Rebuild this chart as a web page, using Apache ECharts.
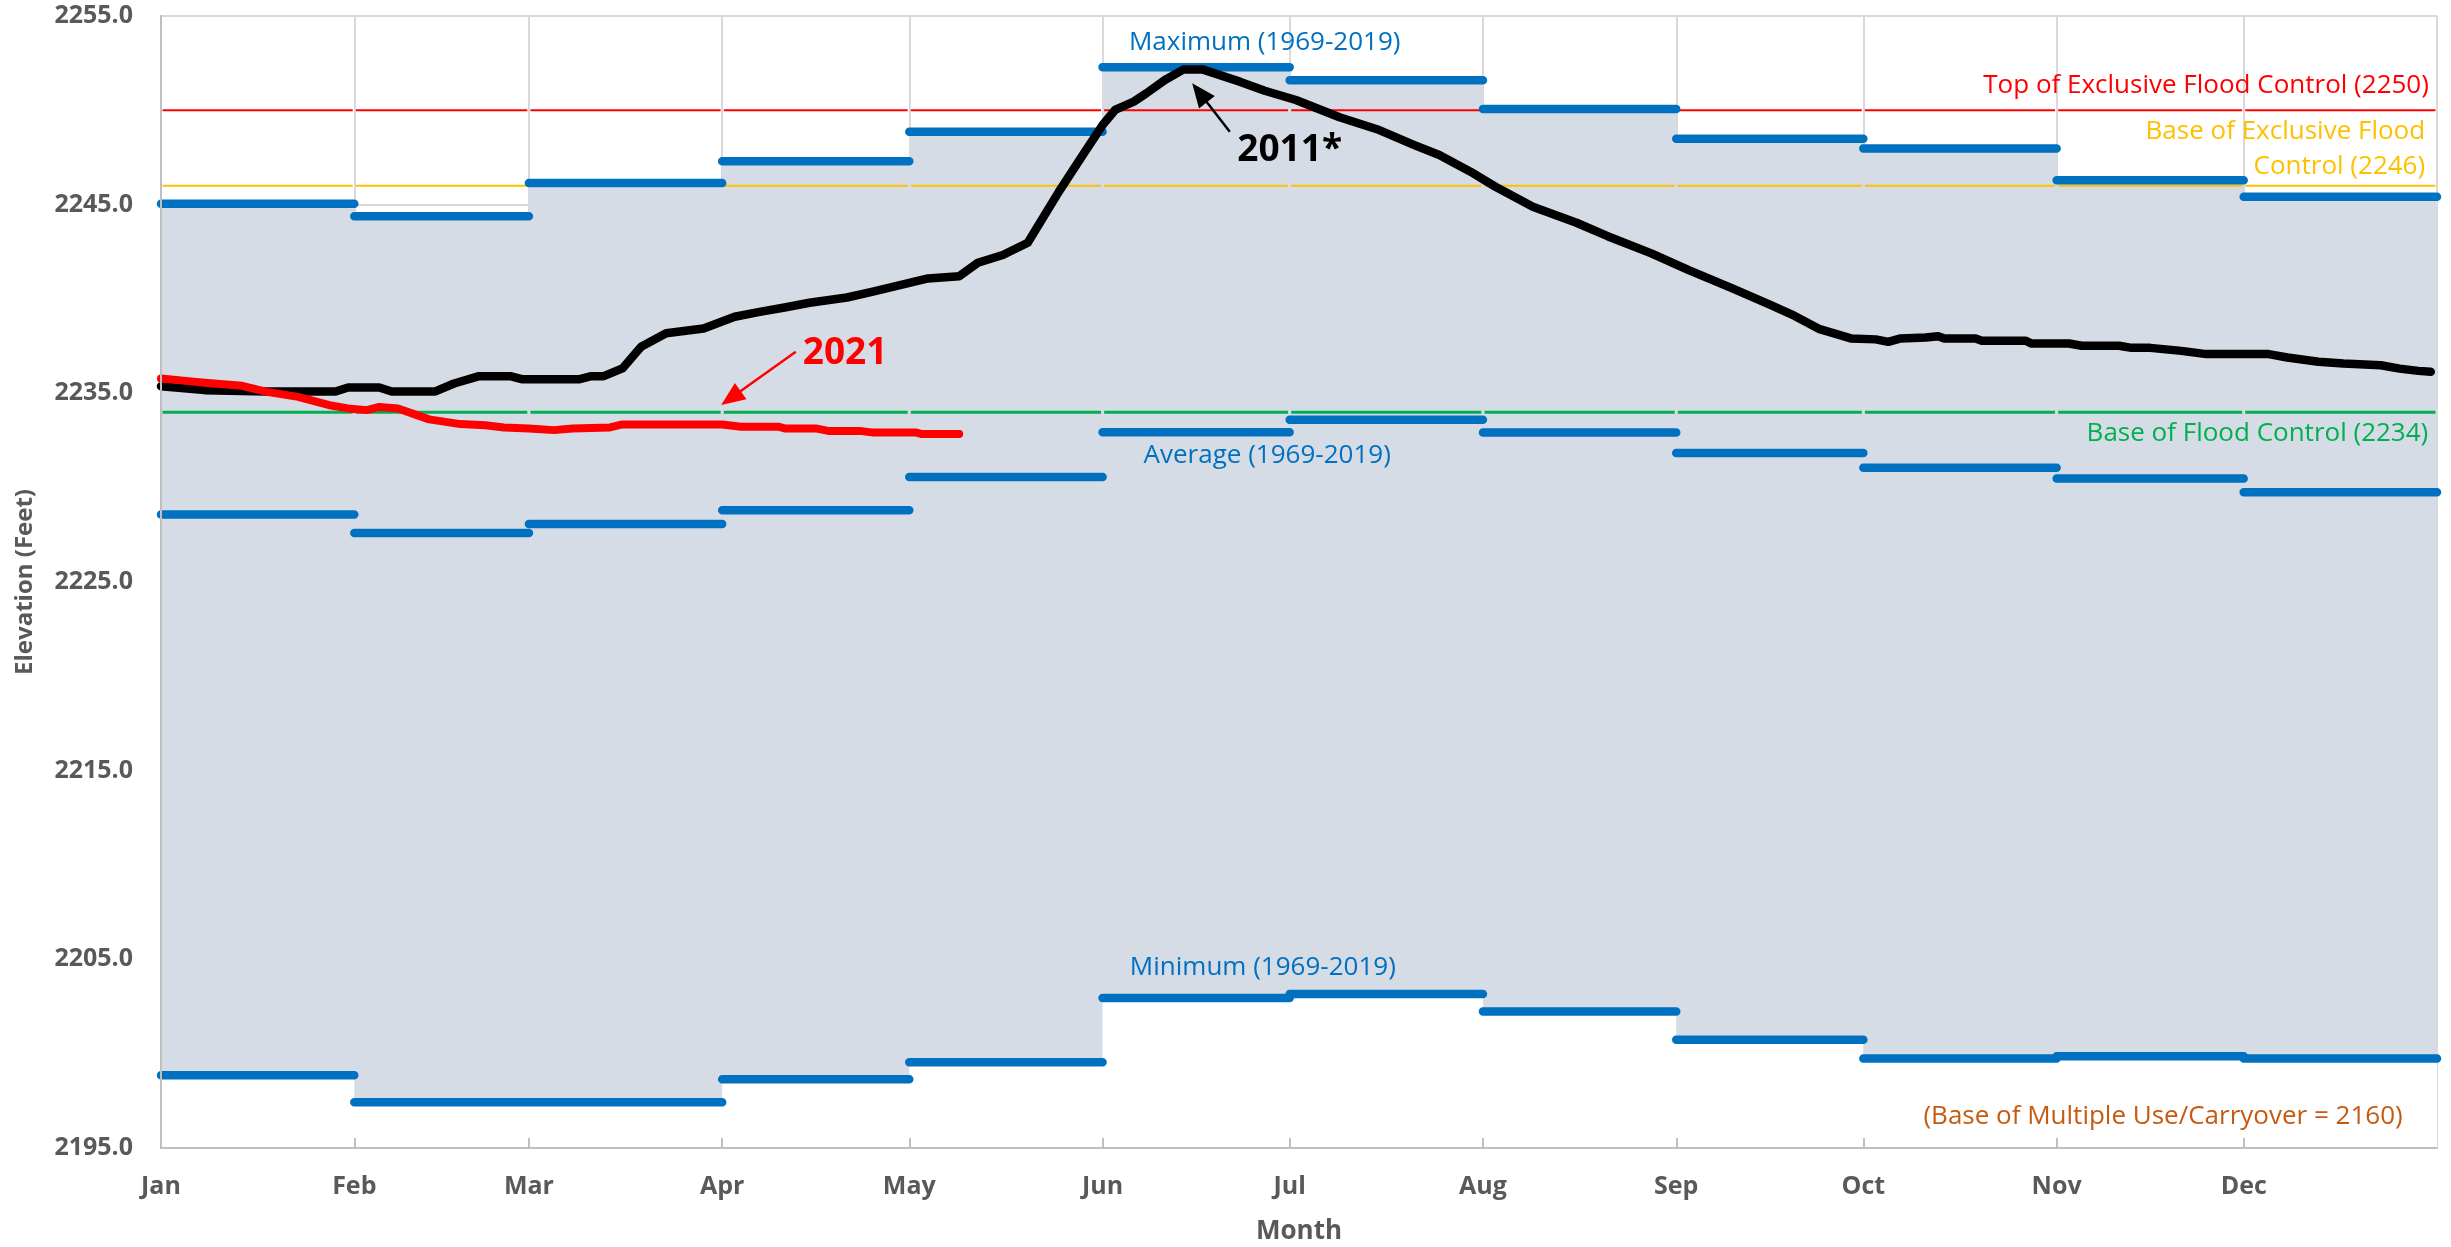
<!DOCTYPE html>
<html>
<head>
<meta charset="utf-8">
<script src="https://cdn.jsdelivr.net/npm/echarts@6/dist/echarts.min.js"></script>
<style>
html,body{margin:0;padding:0;background:#ffffff;}
#chart{width:2451px;height:1247px;}
</style>
</head>
<body>
<div id="chart"></div>
<script>
// ---------------- DATA ----------------
const monthNames = ['Jan','Feb','Mar','Apr','May','Jun','Jul','Aug','Sep','Oct','Nov','Dec'];
const monthMax = [2245.05, 2244.38, 2246.15, 2247.30, 2248.87, 2252.29, 2251.60, 2250.07, 2248.49, 2247.98, 2246.29, 2245.42];
const monthAvg = [2228.58, 2227.60, 2228.08, 2228.80, 2230.57, 2232.94, 2233.60, 2232.93, 2231.84, 2231.05, 2230.49, 2229.76];
const monthMin = [2198.85, 2197.43, 2197.43, 2198.64, 2199.54, 2202.95, 2203.16, 2202.24, 2200.74, 2199.75, 2199.86, 2199.75];
const floodLevels = [2250, 2246, 2234]; // top of exclusive, base of exclusive, base of flood control
const yTickMin = 2195, yTickMax = 2255, yTickStep = 10;

// [day of year (0 = Jan 1), elevation]
const elev2011 = [
 [0,2235.38],[7,2235.17],[17,2235.10],[28,2235.10],[30,2235.31],[35,2235.31],[37,2235.10],[44,2235.10],
 [47,2235.52],[51,2235.91],[56,2235.91],[58,2235.74],[67,2235.74],[69,2235.91],[71,2235.91],[74,2236.32],
 [77,2237.47],[81,2238.18],[87,2238.44],[92,2239.06],[96,2239.32],[100,2239.55],[104,2239.80],[110,2240.08],
 [114,2240.38],[120,2240.86],[123,2241.09],[128,2241.21],[131,2241.92],[135,2242.33],[139,2242.98],[144,2245.69],
 [148,2247.72],[151,2249.22],[153,2250.02],[156,2250.46],[158,2250.90],[161,2251.61],[164,2252.17],[167,2252.17],
 [173,2251.52],[177,2251.04],[182,2250.55],[189,2249.63],[195,2249.00],[201,2248.16],[205,2247.63],[210,2246.75],
 [214,2245.95],[220,2244.89],[227,2244.04],[232,2243.33],[239,2242.42],[245,2241.53],[252,2240.56],[258,2239.70],
 [262,2239.10],[266,2238.40],[271,2237.91],[275,2237.86],[277,2237.73],[279,2237.91],[283,2237.96],[285,2238.03],
 [286,2237.91],[291,2237.91],[292,2237.79],[299,2237.79],[300,2237.64],[306,2237.64],[308,2237.52],[314,2237.52],
 [316,2237.41],[319,2237.41],[324,2237.25],[328,2237.08],[338,2237.08],[341,2236.90],[346,2236.67],[350,2236.58],
 [356,2236.49],[359,2236.31],[362,2236.19],[364,2236.14]
];
const elev2021 = [
 [0,2235.79],[4,2235.66],[7,2235.56],[13,2235.40],[17,2235.08],[22,2234.81],[27,2234.37],[30,2234.20],
 [33,2234.11],[35,2234.28],[38,2234.20],[43,2233.62],[48,2233.37],[52,2233.31],[55,2233.19],[59,2233.14],
 [63,2233.05],[66,2233.14],[72,2233.19],[74,2233.35],[90,2233.35],[93,2233.23],[99,2233.23],[100,2233.14],
 [105,2233.14],[107,2233.01],[112,2233.01],[114,2232.93],[121,2232.93],[122,2232.84],[128,2232.84]
];

// ---------------- HELPERS ----------------
const YEAR = 2021;
const T0 = new Date(YEAR, 0, 1).getTime();
const DAY = 86400000;
const tDay = d => T0 + d * DAY;
const tMonth = m => new Date(YEAR, m, 1).getTime();
const X_MIN = tMonth(0), X_MAX = tMonth(12);

function stepData(vals) {
  const out = vals.map((v, i) => [tMonth(i), v]);
  out.push([tMonth(12), vals[vals.length - 1]]);
  return out;
}
function segData(vals, inset) {
  const out = [];
  vals.forEach((v, i) => {
    out.push([tMonth(i) + inset, v]);
    out.push([tMonth(i + 1) - inset, v]);
    out.push([tMonth(i + 1), '-']);
  });
  return out;
}
function monthlyFlat(v) { return segData(monthNames.map(() => v), 0.25 * DAY); }

const FONT = "'Open Sans', 'Noto Sans', 'Liberation Sans', sans-serif";
const GREY = '#595959';
const BLUE = '#0070C0';

const chart = echarts.init(document.getElementById('chart'), null, {renderer: 'canvas'});

const baseLine = {
  type: 'line', symbol: 'none', showSymbol: false, silent: true, animation: false,
  xAxisIndex: 0, yAxisIndex: 0, connectNulls: false
};

const option = {
  animation: false,
  backgroundColor: '#ffffff',
  textStyle: {fontFamily: FONT},
  grid: {left: 161, right: 14, top: 16, bottom: 99, containLabel: false, outerBoundsMode: 'none'},
  xAxis: [
    {
      type: 'time', min: X_MIN, max: X_MAX, position: 'bottom',
      splitNumber: 12, minInterval: 28 * DAY, maxInterval: 31 * DAY,
      axisLine: {show: false}, axisTick: {show: false}, axisLabel: {show: false},
      splitLine: {show: true, lineStyle: {color: '#D9D9D9', width: 2}}
    },
    {
      type: 'time', min: X_MIN, max: X_MAX, position: 'bottom', z: 10,
      splitNumber: 12, minInterval: 28 * DAY, maxInterval: 31 * DAY,
      axisLine: {show: true, lineStyle: {color: '#BFBFBF', width: 2}},
      axisTick: {show: true, inside: true, length: 10, lineStyle: {color: '#BFBFBF', width: 2}},
      splitLine: {show: false},
      axisLabel: {
        show: true, margin: 26, color: GREY, fontWeight: 'bold', fontSize: 25, fontFamily: FONT,
        showMaxLabel: false, hideOverlap: false,
        formatter: function (val) {
          if (val >= X_MAX) return '';
          return monthNames[new Date(val).getMonth()];
        }
      },
      name: 'Month', nameLocation: 'middle', nameGap: 71,
      nameTextStyle: {color: GREY, fontWeight: 'bold', fontSize: 26, fontFamily: FONT}
    }
  ],
  yAxis: [
    {
      type: 'value', min: yTickMin, max: yTickMax, interval: yTickStep, position: 'left',
      axisLine: {show: true, lineStyle: {color: '#BFBFBF', width: 2}},
      axisTick: {show: false},
      splitLine: {show: true, lineStyle: {color: '#D9D9D9', width: 2}},
      axisLabel: {
        margin: 28, color: GREY, fontWeight: 'bold', fontSize: 25, fontFamily: FONT,
        formatter: v => Number(v).toFixed(1)
      },
      name: 'Elevation (Feet)', nameLocation: 'middle', nameGap: 124, nameRotate: 90,
      nameTextStyle: {color: GREY, fontWeight: 'bold', fontSize: 24, fontFamily: FONT}
    },
    {
      type: 'value', min: yTickMin, max: yTickMax, interval: yTickStep, position: 'left', z: 10,
      axisLine: {show: true, onZero: false, lineStyle: {color: '#BFBFBF', width: 2}},
      axisTick: {show: false}, axisLabel: {show: false}, splitLine: {show: false}
    }
  ],
  series: [
    Object.assign({}, baseLine, {
      name: 'maxFill', step: 'end', data: stepData(monthMax), z: 1,
      lineStyle: {width: 0, opacity: 0},
      areaStyle: {color: '#D6DCE5', opacity: 1, origin: 'start'}
    }),
    Object.assign({}, baseLine, {
      name: 'minFill', step: 'end', data: stepData(monthMin), z: 1,
      lineStyle: {width: 0, opacity: 0},
      areaStyle: {color: '#FFFFFF', opacity: 1, origin: 'start'}
    }),
    Object.assign({}, baseLine, {name: 'top', data: monthlyFlat(floodLevels[0]), z: 2,
      lineStyle: {color: '#FF0000', width: 2, cap: 'butt'}}),
    Object.assign({}, baseLine, {name: 'baseExcl', data: monthlyFlat(floodLevels[1]), z: 2,
      lineStyle: {color: '#FFC000', width: 2, cap: 'butt'}}),
    Object.assign({}, baseLine, {name: 'baseFlood', data: monthlyFlat(floodLevels[2]), z: 2,
      lineStyle: {color: '#00B050', width: 3, cap: 'butt'}}),
    Object.assign({}, baseLine, {name: 'max', data: segData(monthMax, 0), z: 3,
      lineStyle: {color: BLUE, width: 8.5, cap: 'round'}}),
    Object.assign({}, baseLine, {name: 'avg', data: segData(monthAvg, 0), z: 3,
      lineStyle: {color: BLUE, width: 8.5, cap: 'round'}}),
    Object.assign({}, baseLine, {name: 'min', data: segData(monthMin, 0), z: 3,
      lineStyle: {color: BLUE, width: 8.5, cap: 'round'}}),
    Object.assign({}, baseLine, {name: '2011', data: elev2011.map(p => [tDay(p[0]), p[1]]), z: 4,
      lineStyle: {color: '#000000', width: 8.5, join: 'round', cap: 'round'},
      markLine: {
        silent: true, animation: false, symbol: ['none', 'triangle'], symbolSize: [20, 24],
        label: {show: false}, emphasis: {disabled: true},
        lineStyle: {color: '#000000', width: 2.5, type: 'solid'},
        data: [[{coord: [tDay(171.4), 2248.87]}, {coord: [tDay(166.55), 2250.93]}]]
      }}),
    Object.assign({}, baseLine, {name: '2021', data: elev2021.map(p => [tDay(p[0]), p[1]]), z: 5,
      lineStyle: {color: '#FF0000', width: 8, join: 'round', cap: 'round'},
      markLine: {
        silent: true, animation: false, symbol: ['none', 'triangle'], symbolSize: [20, 24],
        label: {show: false}, emphasis: {disabled: true},
        lineStyle: {color: '#FF0000', width: 2.5, type: 'solid'},
        data: [[{coord: [tDay(101.8), 2237.2]}, {coord: [tDay(91.4), 2234.75]}]]
      }})
  ]
};
chart.setOption(option);

// ---------------- ANNOTATIONS (anchored in data coordinates) ----------------
const notes = [
  {text: 'Maximum (1969-2019)', d: 177.0, v: 2253.6, align: 'center', color: BLUE, size: 26, weight: 'normal'},
  {text: 'Average (1969-2019)', d: 177.4, v: 2231.72, align: 'center', color: BLUE, size: 26, weight: 'normal'},
  {text: 'Minimum (1969-2019)', d: 176.7, v: 2204.58, align: 'center', color: BLUE, size: 26, weight: 'normal'},
  {text: 'Top of Exclusive Flood Control (2250)', d: 363.7, v: 2251.29, align: 'right', color: '#FF0000', size: 26, weight: 'normal'},
  {text: 'Base of Exclusive Flood\nControl (2246)', d: 363.1, v: 2247.93, align: 'right', color: '#FFC000', size: 26, weight: 'normal', lh: 35},
  {text: 'Base of Flood Control (2234)', d: 363.6, v: 2232.84, align: 'right', color: '#00B050', size: 26, weight: 'normal'},
  {text: '(Base of Multiple Use/Carryover = 2160)', d: 359.5, v: 2196.68, align: 'right', color: '#C55A11', size: 26, weight: 'normal'},
  {text: '2021', d: 109.7, v: 2237.13, align: 'center', color: '#FF0000', size: 37, weight: 'bold'},
  {text: '2011*', d: 181.0, v: 2247.9, align: 'center', color: '#000000', size: 37, weight: 'bold'}
];
const graphics = notes.map(n => {
  const p = chart.convertToPixel({xAxisIndex: 0, yAxisIndex: 0}, [tDay(n.d), n.v]);
  return {
    type: 'text', x: p[0], y: p[1], z: 100, silent: true,
    style: {
      text: n.text, fill: n.color,
      font: n.weight + ' ' + n.size + 'px ' + FONT,
      fontSize: n.size, fontWeight: n.weight, fontFamily: FONT,
      align: n.align, textAlign: n.align,
      verticalAlign: 'middle', textVerticalAlign: 'middle',
      lineHeight: n.lh || n.size * 1.2
    }
  };
});
chart.setOption({graphic: {elements: graphics}});
</script>
</body>
</html>
